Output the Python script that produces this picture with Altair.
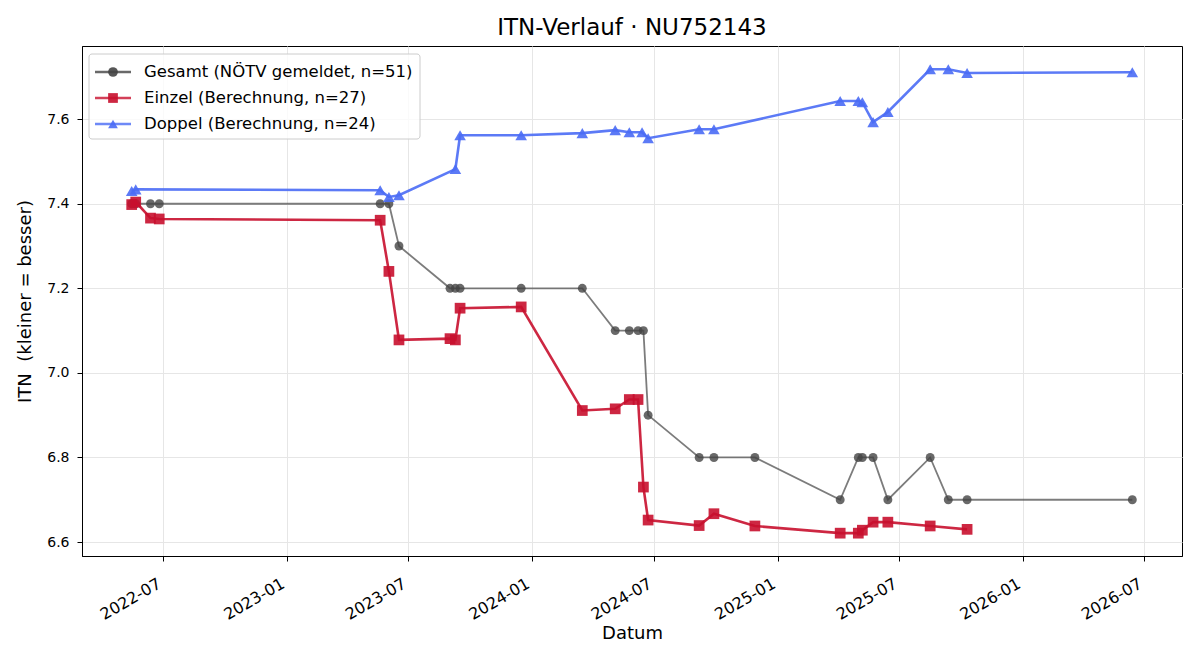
import altair as alt
import pandas as pd

# ---------------- data ----------------
gesamt_dates = ["2022-05-15", "2022-05-21", "2022-06-12", "2022-06-25", "2023-05-20", "2023-06-02",
                "2023-06-17", "2023-09-01", "2023-09-09", "2023-09-16", "2023-12-16", "2024-03-16",
                "2024-05-04", "2024-05-25", "2024-06-07", "2024-06-15", "2024-06-22", "2024-09-06",
                "2024-09-28", "2024-11-28", "2025-04-04", "2025-05-01", "2025-05-07", "2025-05-23",
                "2025-06-14", "2025-08-16", "2025-09-12", "2025-10-10", "2026-06-13"]
gesamt_vals = [7.4, 7.4, 7.4, 7.4, 7.4, 7.4, 7.3, 7.2, 7.2, 7.2, 7.2, 7.2, 7.1, 7.1, 7.1, 7.1, 6.9,
               6.8, 6.8, 6.8, 6.7, 6.8, 6.8, 6.8, 6.7, 6.8, 6.7, 6.7, 6.7]

einzel_dates = ["2022-05-15", "2022-05-21", "2022-06-12", "2022-06-25", "2023-05-20", "2023-06-02",
                "2023-06-17", "2023-09-01", "2023-09-09", "2023-09-16", "2023-12-16", "2024-03-16",
                "2024-05-04", "2024-05-25", "2024-06-07", "2024-06-15", "2024-06-22", "2024-09-06",
                "2024-09-28", "2024-11-28", "2025-04-04", "2025-05-01", "2025-05-07", "2025-05-23",
                "2025-06-14", "2025-08-16", "2025-10-10"]
einzel_vals = [7.398, 7.404, 7.366, 7.364, 7.361, 7.24, 7.078, 7.081, 7.078, 7.153, 7.156, 6.911,
               6.915, 6.937, 6.937, 6.73, 6.652, 6.639, 6.667, 6.638, 6.621, 6.621, 6.628, 6.647,
               6.647, 6.638, 6.63]

doppel_dates = ["2022-05-15", "2022-05-21", "2023-05-20", "2023-06-02", "2023-06-17", "2023-09-09",
                "2023-09-16", "2023-12-16", "2024-03-16", "2024-05-04", "2024-05-25", "2024-06-13",
                "2024-06-22", "2024-09-06", "2024-09-28", "2025-04-04", "2025-05-01", "2025-05-07",
                "2025-05-23", "2025-06-14", "2025-08-16", "2025-09-12", "2025-10-10", "2026-06-13"]
doppel_vals = [7.430, 7.434, 7.432, 7.416, 7.420, 7.482, 7.562, 7.562, 7.567, 7.574, 7.569, 7.569,
               7.555, 7.576, 7.576, 7.643, 7.643, 7.640, 7.593, 7.617, 7.718, 7.718, 7.709, 7.711]

legend_labels = ["Gesamt (NÖTV gemeldet, n=51)", "Einzel (Berechnung, n=27)", "Doppel (Berechnung, n=24)"]
series_colors = ["#444444", "#c8102e", "#4a6cf5"]
series_shapes = ["circle", "square", "triangle-up"]

y_ticks = [6.6, 6.8, 7.0, 7.2, 7.4, 7.6]
x_tick_months = [(2022, 7), (2023, 1), (2023, 7), (2024, 1), (2024, 7), (2025, 1), (2025, 7),
                 (2026, 1), (2026, 7)]

FONT = "DejaVu Sans"

g_df = pd.DataFrame({"date": gesamt_dates, "itn": gesamt_vals})
e_df = pd.DataFrame({"date": einzel_dates, "itn": einzel_vals})
d_df = pd.DataFrame({"date": doppel_dates, "itn": doppel_vals})

x_scale = alt.Scale(type="utc",
                    domain=[alt.DateTime(year=2022, month=3, date=2, utc=True),
                            alt.DateTime(year=2026, month=8, date=26, utc=True)])
y_scale = alt.Scale(domain=[6.567, 7.773], nice=False, zero=False)

x_enc = alt.X("date:T", scale=x_scale, title="Datum",
              axis=alt.Axis(values=[alt.DateTime(year=y, month=m, date=1, utc=True) for y, m in x_tick_months],
                            labelExpr="utcFormat(datum.value, '%Y-%m')", labelAngle=-30, labelAlign="right",
                            labelBaseline="bottom", labelPadding=28, labelFontSize=16,
                            titleY=68, titleBaseline="top", titleFontSize=18))
y_enc = alt.Y("itn:Q", scale=y_scale, title="ITN\u00a0\u00a0(kleiner = besser)",
              axis=alt.Axis(values=y_ticks, labelExpr="format(datum.value, '.1f')", labelFontSize=14,
                            labelPadding=8, titlePadding=12, titleFontSize=18))


def series(df, color, shape, size, line_w, line_op, pt_op):
    base = alt.Chart(df).encode(x=x_enc, y=y_enc)
    line = base.mark_line(color=color, strokeWidth=line_w, opacity=line_op)
    pts = base.mark_point(shape=shape, filled=True, size=size, color=color, opacity=pt_op)
    return [line, pts]


layers = []
layers += series(g_df, series_colors[0], series_shapes[0], 80, 1.8, 0.7, 0.8)
layers += series(e_df, series_colors[1], series_shapes[1], 115, 2.6, 0.9, 0.9)
layers += series(d_df, series_colors[2], series_shapes[2], 135, 2.6, 0.9, 0.9)

main = alt.layer(*layers)

# ---------------- legend ----------------
leg_df = pd.DataFrame({"label": legend_labels, "color": series_colors, "shape": series_shapes})
leg_y = alt.Y("label:N", scale=alt.Scale(type="point", domain=legend_labels, range=[26, 78], padding=0),
              axis=None)

leg_box = alt.Chart(pd.DataFrame({"k": [0]})).mark_rect(
    fill="white", fillOpacity=0.8, stroke="#cccccc", strokeWidth=1, cornerRadius=3
).encode(x=alt.value(7), x2=alt.value(338), y=alt.value(8), y2=alt.value(93))

leg_line = alt.Chart(leg_df).mark_rule(strokeWidth=2.5, opacity=0.8).encode(
    x=alt.value(13), x2=alt.value(49), y=leg_y, color=alt.Color("color:N", scale=None))
leg_pt = alt.Chart(leg_df).mark_point(filled=True, size=95, opacity=0.9).encode(
    x=alt.value(31), y=leg_y, color=alt.Color("color:N", scale=None),
    shape=alt.Shape("shape:N", scale=None))
leg_txt = alt.Chart(leg_df).mark_text(align="left", baseline="middle", font=FONT, fontSize=16.5,
                                      color="black").encode(
    x=alt.value(62), y=leg_y, text="label:N")

legend = alt.layer(leg_box, leg_line, leg_pt, leg_txt)

chart = alt.layer(main, legend).resolve_scale(x="independent", y="independent").properties(
    width=1100, height=510,
    background="white",
    title=alt.TitleParams("ITN-Verlauf · NU752143", font=FONT, fontSize=23, fontWeight="normal",
                          color="black", anchor="middle", offset=6),
    autosize=alt.AutoSizeParams(type="none"),
    padding={"left": 82, "top": 46, "right": 18, "bottom": 104},
).configure_view(stroke="black", strokeWidth=1).configure_axis(
    labelFont=FONT, titleFont=FONT, titleFontWeight="normal",
    labelColor="black", titleColor="black", domainColor="black", tickColor="black", tickSize=5,
    gridColor="#e6e6e6", gridWidth=1, grid=True
)

chart.save("out.html", embed_options={"renderer": "svg", "actions": False})
